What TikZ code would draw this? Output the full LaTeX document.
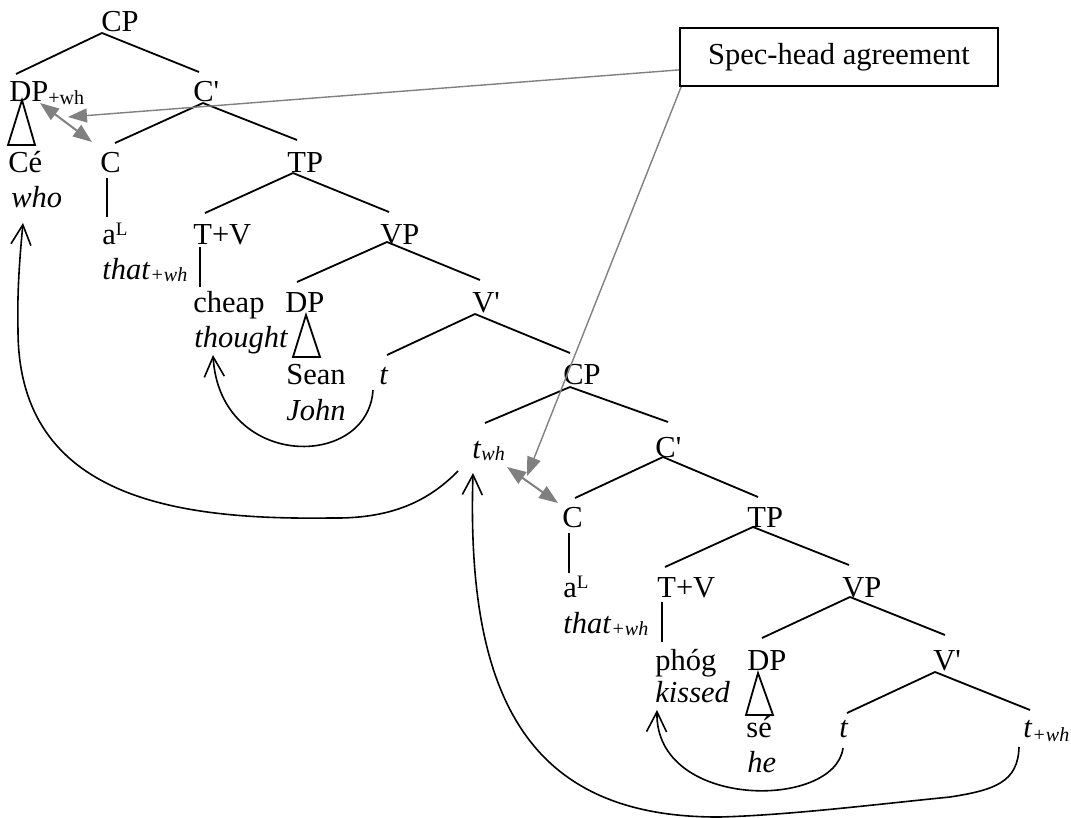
\documentclass[tikz,border=0pt]{standalone}
\usepackage{fontspec}
\setmainfont{Liberation Serif}[Ligatures=TeXOff]
\usetikzlibrary{calc,arrows.meta}

% small lowered / raised text for feature marks
\newcommand\lowtxt[2]{\raisebox{-#1}{\fontsize{10}{10}\selectfont #2}}
\newcommand\hitxt[1]{\raisebox{4.5pt}{\fontsize{9.5}{10}\selectfont #1}}
% tree branch between two labels, each end offset from the label's base west
\newcommand\branch[4]{\draw[br] ($(#1.base west)+(#2)$) -- ($(#3.base west)+(#4)$);}

\begin{document}
\begin{tikzpicture}[x=0.5pt,y=-0.5pt,
  lbl/.style={inner sep=0pt, anchor=base west, font=\fontsize{15.25}{18}\selectfont},
  br/.style={line width=0.9pt},
  mv/.style={line width=0.8pt, -{Straight Barb[length=10pt,width=10pt]}},
  agr/.style={draw=gray, line width=0.7pt, -{Triangle[length=9.5pt,width=7pt]}, gray},
  agr2/.style={draw=gray, line width=1pt, {Triangle[length=9.5pt,width=7pt]}-{Triangle[length=9.5pt,width=7pt]}, gray},
  boxed/.style={draw, line width=0.9pt, minimum width=159pt, minimum height=29pt, inner sep=0pt, font=\fontsize{15.25}{18}\selectfont}
]
\useasboundingbox (0,0) rectangle (1071,818);

% ---- upper clause ----
\node[lbl] (cp1) at (101,32) {CP};
\node[lbl] (dp1) at (9,102) {DP\lowtxt{1.5pt}{+wh}};
\node[lbl] (cb1) at (193,102) {C'};
\node[lbl] (ce) at (8,173) {Cé};
\node[lbl] (who) at (11,208) {\textit{who}};
\node[lbl] (c1) at (100,173) {C};
\node[lbl] (tp1) at (287,173) {TP};
\node[lbl] (al1) at (102,245) {a\hitxt{L}};
\node[lbl] (that1) at (102,280) {\textit{that}\lowtxt{1pt}{\textit{+wh}}};
\node[lbl] (tv1) at (193,245) {T+V};
\node[lbl] (vp1) at (380,245) {VP};
\node[lbl] (cheap) at (193,313) {cheap};
\node[lbl] (thought) at (194,348) {\textit{thought}};
\node[lbl] (dp2) at (285,313) {DP};
\node[lbl] (vb1) at (472,313) {V'};
\node[lbl] (sean) at (286,385) {Sean};
\node[lbl] (john) at (286,420) {\textit{John}};
\node[lbl] (t1) at (379,385) {\textit{t}};

% ---- embedded clause ----
\node[lbl] (cp2) at (563,385) {CP};
\node[lbl] (twh) at (472,458) {\textit{t}\lowtxt{1pt}{\textit{wh}}};
\node[lbl] (cb2) at (655,457) {C'};
\node[lbl] (c2) at (562,527) {C};
\node[lbl] (tp2) at (747,527) {TP};
\node[lbl] (al2) at (563,597) {a\hitxt{L}};
\node[lbl] (that2) at (563,633) {\textit{that}\lowtxt{1pt}{\textit{+wh}}};
\node[lbl] (tv2) at (657,597) {T+V};
\node[lbl] (vp2) at (842,597) {VP};
\node[lbl] (phog) at (655,670) {phóg};
\node[lbl] (kissed) at (655,702) {\textit{kissed}};
\node[lbl] (dp3) at (747,670) {DP};
\node[lbl] (vb2) at (933,670) {V'};
\node[lbl] (se) at (746,737) {sé};
\node[lbl] (he) at (747,772) {\textit{he}};
\node[lbl] (t2) at (839,737) {\textit{t}};
\node[lbl] (tpwh) at (1023,737) {\textit{t}\lowtxt{2pt}{\textit{+wh}}};

\node[boxed] (box) at (839,57) {Spec-head agreement};

% ---- branches ----
\branch{cp1}{1,1}{dp1}{7,-28}
\branch{cp1}{1,1}{cb1}{6,-30}
\branch{cb1}{10,1}{c1}{15,-30}
\branch{cb1}{10,1}{tp1}{10,-33}
\branch{tp1}{6,0}{tv1}{12,-32}
\branch{tp1}{6,0}{vp1}{9,-33}
\branch{vp1}{7,-3}{dp2}{12,-31}
\branch{vp1}{7,-3}{vb1}{8,-33}
\branch{vb1}{3,1}{t1}{8,-30}
\branch{vb1}{3,1}{cp2}{7,-32}
\branch{cp2}{7,2}{twh}{13,-35}
\branch{cp2}{7,2}{cb2}{13,-35}
\branch{cb2}{8,0}{c2}{13,-29}
\branch{cb2}{8,0}{tp2}{11,-30}
\branch{tp2}{6,0}{tv2}{8,-30}
\branch{tp2}{6,0}{vp2}{7,-32}
\branch{vp2}{8,0}{dp3}{15,-32}
\branch{vp2}{8,0}{vb2}{12,-35}
\branch{vb2}{2,2}{t2}{8,-24}
\branch{vb2}{2,2}{tpwh}{7,-27}

% heads to their words
\branch{c1}{7,5}{al1}{5,-28}
\branch{tv1}{7,2}{cheap}{7,-26}
\branch{c2}{7,6}{al2}{6,-24}
\branch{tv2}{5,5}{phog}{7,-28}

% triangles over phrasal words
\draw[br] ($(dp1.base west)+(13,-2)$) -- ($(ce.base west)+(0,-28)$) -- ($(ce.base west)+(27,-28)$) -- cycle;
\draw[br] ($(dp2.base west)+(21,2)$) -- ($(sean.base west)+(7,-28)$) -- ($(sean.base west)+(34,-28)$) -- cycle;
\draw[br] ($(dp3.base west)+(11,3)$) -- ($(se.base west)+(0,-22)$) -- ($(se.base west)+(27,-22)$) -- cycle;

% ---- movement ----
\draw[mv] ($(t1.base west)+(-6,5)$) .. controls +(-5,80) and +(7,115) .. ($(thought.base west)+(19,7)$);
\draw[mv] ($(twh.base west)+(-14,13)$) .. controls (425,505) and (385,519) .. (330,518)
  .. controls (180,520) and (18,500) .. (18,330)
  .. controls (17,290) and (20,255) .. ($(who.base west)+(12,15)$);
\draw[mv] ($(tpwh.base west)+(-4,10)$) .. controls (1018,782) and (995,790) .. (950,797)
  .. controls (870,805) and (790,815) .. (720,817)
  .. controls (530,818) and (466,700) .. ($(twh.base west)+(1,15)$);
\draw[mv] ($(t2.base west)+(4,11)$) .. controls +(-8,62) and +(-2,100) .. ($(kissed.base west)+(2,8)$);

% ---- agreement ----
\draw[agr] ($(box.south west)+(0,-17)$) -- ($(dp1.base west)+(59,15)$);
\draw[agr] ($(box.south west)+(2,0)$) -- ($(twh.base west)+(55,18)$);
\draw[agr2] ($(dp1.base west)+(31,1)$) -- ($(c1.base west)+(-8,-31)$);
\draw[agr2] ($(twh.base west)+(35,9)$) -- ($(c2.base west)+(-4,-24)$);
\end{tikzpicture}
\end{document}
